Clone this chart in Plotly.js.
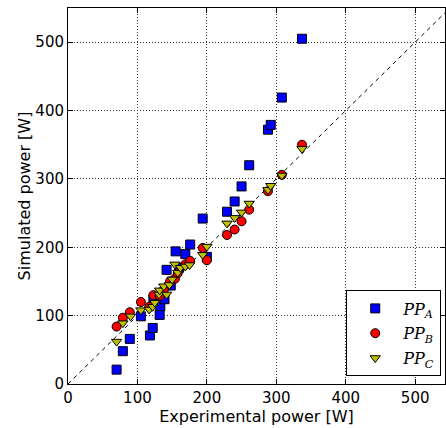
<!DOCTYPE html>
<html><head><meta charset="utf-8">
<script src="https://cdn.plot.ly/plotly-3.0.1.min.js"></script>
<style>html,body{margin:0;padding:0;background:#fff}</style>
</head><body><div id="chart" style="width:446px;height:428px"></div>
<script>
const ppA_x = [70, 79, 89, 105, 118, 122, 123, 132, 133, 137, 139, 142, 148, 155, 160, 169, 176, 194, 200, 229, 240, 250, 261, 288, 292, 308, 337];
const ppA_y = [21, 48, 66, 99, 71, 82, 124, 101, 114, 132, 124, 167, 144, 194, 170, 190, 204, 242, 186, 252, 267, 289, 320, 372, 379, 419, 505];
const ppB_x = [70, 79, 89, 105, 117, 123, 132, 138, 147, 154, 158, 169, 176, 194, 200, 229, 240, 250, 261, 288, 308, 337];
const ppB_y = [84, 97, 105, 120, 113, 130, 129, 138, 150, 154, 162, 175, 180, 199, 181, 218, 226, 238, 255, 282, 306, 350];
const ppC_x = [70, 79, 90, 105, 117, 122, 125, 131, 132, 138, 142, 146, 150, 154, 158, 162, 169, 175, 194, 200, 229, 240, 250, 261, 288, 292, 308, 337];
const ppC_y = [62, 89, 99, 108, 109, 113, 119, 131, 137, 143, 131, 145, 153, 175, 163, 170, 172, 174, 189, 201, 235, 243, 251, 264, 284, 290, 305, 344];
const diag = [0, 550];
const xRange = [0, 543];
const yRange = [0, 550];

const mk = (sym, col) => ({symbol: sym, size: 9, color: col, line: {color: '#000', width: 1}});
const data = [
  {x: diag, y: diag, mode: 'lines', line: {color: '#000', width: 1, dash: '4px,4px'}, showlegend: false, hoverinfo: 'skip'},
  {x: ppA_x, y: ppA_y, mode: 'markers', name: '<i>PP</i><sub><i>A</i></sub>', legendgroup: 'a', marker: mk('square', '#0000ff')},
  {x: ppB_x, y: ppB_y, mode: 'markers', name: '<i>PP</i><sub><i>B</i></sub>', legendgroup: 'b', marker: mk('circle', '#ff0000')},
  {x: ppC_x, y: ppC_y, mode: 'markers', name: '<i>PP</i><sub><i>C</i></sub>', legendgroup: 'c', marker: mk('triangle-down', '#bfbf00')}
];
const axis = (title, range) => ({
  range: range, tickvals: [0, 100, 200, 300, 400, 500], ticks: 'inside', ticklen: 5, tickcolor: '#000',
  showline: true, linecolor: '#000', linewidth: 1, mirror: 'ticks',
  showgrid: true, gridcolor: '#333', griddash: '1px,2px', gridwidth: 1, zeroline: false,
  tickfont: {family: 'DejaVu Sans', size: 15, color: '#000'},
  title: {text: title, font: {family: 'DejaVu Sans', size: 16, color: '#000'}, standoff: 0}
});
const layout = {
  width: 446, height: 428,
  margin: {l: 68, r: 1, t: 8, b: 44},
  paper_bgcolor: '#fff', plot_bgcolor: '#fff',
  xaxis: axis('Experimental power [W]', xRange),
  yaxis: axis('Simulated power [W]', yRange),
  legend: {x: 0.99, y: 0.02, xanchor: 'right', yanchor: 'bottom', bgcolor: '#fff', bordercolor: '#000', borderwidth: 1,
    font: {family: 'DejaVu Serif', size: 16, color: '#000'}, itemwidth: 46, tracegroupgap: 1},
  showlegend: true
};
Plotly.newPlot('chart', data, layout, {staticPlot: true, displayModeBar: false});
</script></body></html>
